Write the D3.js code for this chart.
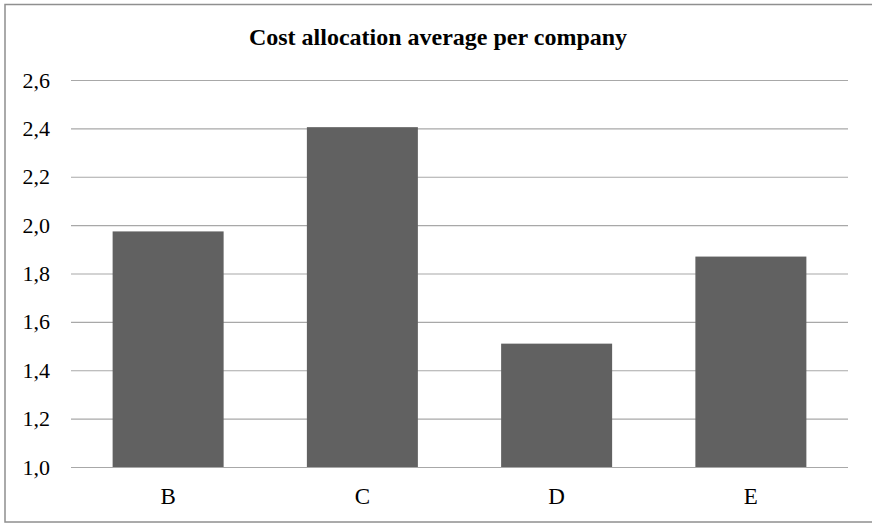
<!DOCTYPE html>
<html>
<head>
<meta charset="utf-8">
<script src="https://cdn.jsdelivr.net/npm/d3@7"></script>
<style>
  html, body { margin: 0; padding: 0; background: #fff; }
  svg { display: block; }
  text { font-family: "Liberation Serif", "Times New Roman", serif; fill: #000; }
</style>
</head>
<body>
<svg id="chart" width="872" height="524"></svg>
<script>
// Chart data
const categories = ["B", "C", "D", "E"];
const values = [1.974, 2.405, 1.51, 1.87];
const yTicks = [1.0, 1.2, 1.4, 1.6, 1.8, 2.0, 2.2, 2.4, 2.6];
const titleText = "Cost allocation average per company";

const svg = d3.select("#chart");
const W = 872, H = 524;
const plot = { left: 71, right: 848, top: 80, bottom: 467 };
const serif = "Liberation Serif, Times New Roman, serif";

// Outer chart frame (right edge runs off the canvas)
svg.append("rect")
  .attr("x", 5).attr("y", 4.5)
  .attr("width", W + 10).attr("height", 517.5)
  .attr("fill", "#fff")
  .attr("stroke", "#8f8f8f")
  .attr("stroke-width", 1.5);

const y = d3.scaleLinear().domain([1.0, 2.6]).range([plot.bottom, plot.top]);
const x = d3.scaleBand().domain(categories)
  .range([plot.left, plot.right])
  .paddingInner(0.75 / 1.75)
  .paddingOuter(0.75 / 3.5);

const fmt = v => d3.format(".1f")(v).replace(".", ",");

// Horizontal gridlines with value labels
const yAxis = d3.axisLeft(y)
  .tickValues(yTicks)
  .tickFormat(fmt)
  .tickSize(-(plot.right - plot.left))
  .tickPadding(21);

const gy = svg.append("g")
  .attr("transform", `translate(${plot.left},0)`)
  .call(yAxis);
gy.select(".domain").remove();
gy.selectAll(".tick line").attr("stroke", "#a8a8a8").attr("stroke-width", 1.2);
gy.selectAll(".tick text")
  .attr("font-size", 22)
  .attr("font-family", serif)
  .attr("fill", "#000");

// Bars
svg.append("g").selectAll("rect")
  .data(categories.map((c, i) => ({ c, v: values[i] })))
  .join("rect")
  .attr("x", d => x(d.c))
  .attr("width", x.bandwidth())
  .attr("y", d => y(d.v))
  .attr("height", d => y(1.0) - y(d.v))
  .attr("fill", "#616161");

// Category labels
const xAxis = d3.axisBottom(x).tickSize(0).tickPadding(21);
const gx = svg.append("g")
  .attr("transform", `translate(0,${plot.bottom})`)
  .call(xAxis);
gx.select(".domain").remove();
gx.selectAll(".tick text")
  .attr("font-size", 23)
  .attr("font-family", serif)
  .attr("fill", "#000");

// Title
svg.append("text")
  .attr("x", 438).attr("y", 45)
  .attr("text-anchor", "middle")
  .attr("font-size", 24)
  .attr("font-weight", "bold")
  .attr("font-family", serif)
  .text(titleText);
</script>
</body>
</html>
